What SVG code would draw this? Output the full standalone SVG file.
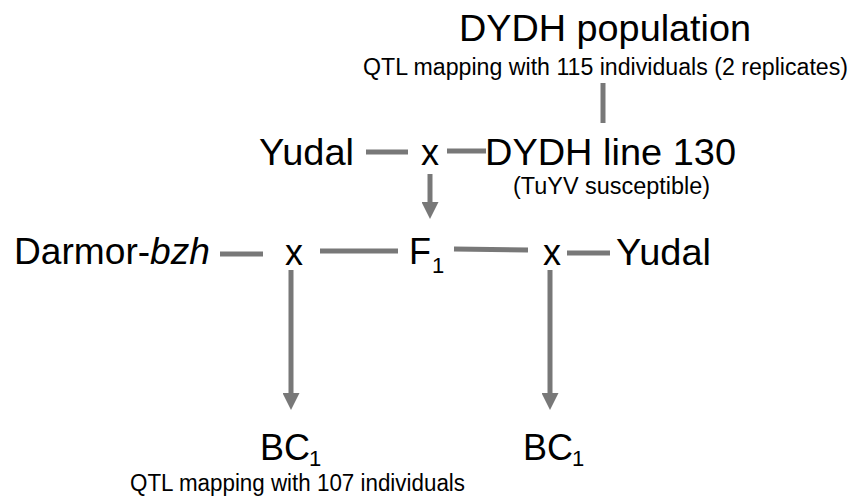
<svg xmlns="http://www.w3.org/2000/svg" width="853" height="498" viewBox="0 0 853 498">
  <style>
    text { font-family: "Liberation Sans", Arial, Helvetica, sans-serif; fill: #000; }
    .big { font-size: 36px; }
    .sub { font-size: 23px; }
    .idx { font-size: 22px; }
    .conn { stroke: #787878; stroke-width: 5; fill: none; }
  </style>
  <defs>
    <marker id="arrow" markerUnits="userSpaceOnUse" markerWidth="17" markerHeight="17" viewBox="0 0 17 17" refX="7" refY="8.5" orient="auto">
      <path d="M0,0 L17,8.5 L0,17 Z" fill="#787878"/>
    </marker>
  </defs>

  <g id="connectors">
    <line class="conn" x1="603" y1="83" x2="603" y2="123"/>
    <line class="conn" x1="366" y1="152" x2="408" y2="152"/>
    <line class="conn" x1="447" y1="151" x2="486" y2="151"/>
    <line class="conn" x1="430" y1="174" x2="430" y2="209" marker-end="url(#arrow)"/>
    <line class="conn" x1="220" y1="254" x2="263" y2="254"/>
    <line class="conn" x1="320" y1="251" x2="398" y2="251"/>
    <line class="conn" x1="454" y1="249" x2="528" y2="250"/>
    <line class="conn" x1="567" y1="253" x2="610" y2="253"/>
    <line class="conn" x1="291" y1="270" x2="291" y2="400" marker-end="url(#arrow)"/>
    <line class="conn" x1="550" y1="270" x2="550" y2="400" marker-end="url(#arrow)"/>
  </g>

  <g id="dydh-population">
    <text class="big" x="459" y="41" textLength="292" lengthAdjust="spacingAndGlyphs">DYDH population</text>
    <text class="sub" x="363" y="75" textLength="485" lengthAdjust="spacingAndGlyphs">QTL mapping with 115 individuals (2 replicates)</text>
  </g>

  <g id="yudal-top">
    <text class="big" x="259" y="165" textLength="95" lengthAdjust="spacingAndGlyphs">Yudal</text>
  </g>

  <g id="cross-top">
    <text class="big" x="421" y="165">x</text>
  </g>

  <g id="dydh-line-130">
    <text class="big" x="485" y="165" textLength="251" lengthAdjust="spacingAndGlyphs">DYDH line 130</text>
    <text class="sub" x="513" y="194" textLength="197" lengthAdjust="spacingAndGlyphs">(TuYV susceptible)</text>
  </g>

  <g id="darmor-bzh">
    <text class="big" x="14" y="264" textLength="196" lengthAdjust="spacingAndGlyphs">Darmor-<tspan font-style="italic">bzh</tspan></text>
  </g>

  <g id="cross-left">
    <text class="big" x="285" y="265">x</text>
  </g>

  <g id="f1">
    <text class="big" x="409" y="264">F</text>
    <text class="idx" x="432" y="273">1</text>
  </g>

  <g id="cross-right">
    <text class="big" x="543" y="265">x</text>
  </g>

  <g id="yudal-right">
    <text class="big" x="616" y="265" textLength="95" lengthAdjust="spacingAndGlyphs">Yudal</text>
  </g>

  <g id="bc1-left">
    <text class="big" x="260" y="460">BC</text>
    <text class="idx" x="309" y="466">1</text>
    <text class="sub" x="130" y="491" textLength="335" lengthAdjust="spacingAndGlyphs">QTL mapping with 107 individuals</text>
  </g>

  <g id="bc1-right">
    <text class="big" x="523" y="460">BC</text>
    <text class="idx" x="572" y="466">1</text>
  </g>
</svg>
